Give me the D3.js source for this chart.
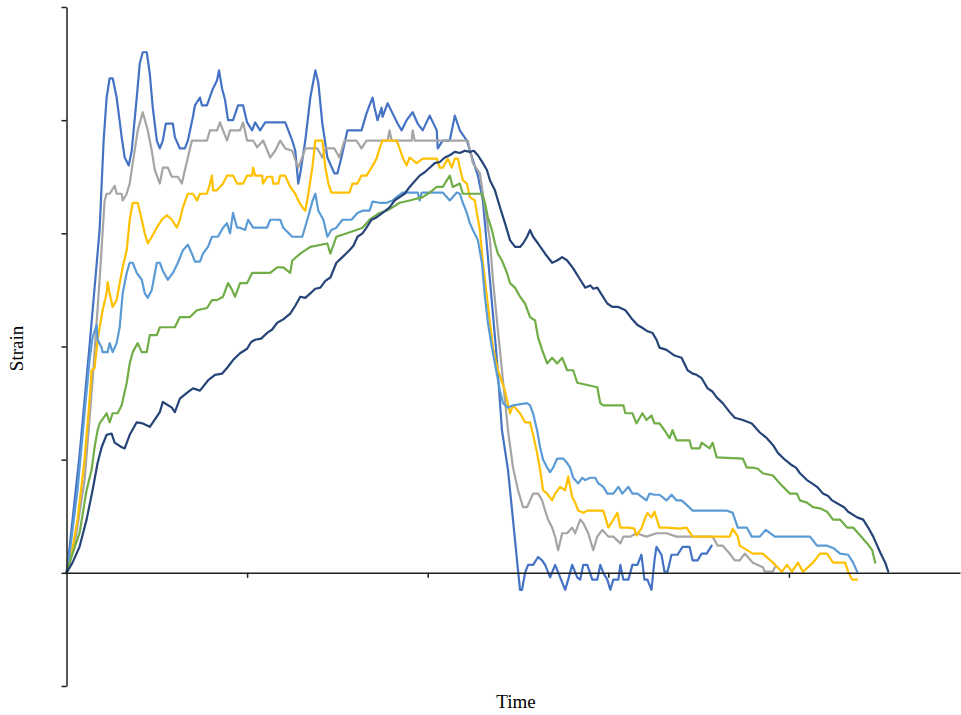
<!DOCTYPE html>
<html>
<head>
<meta charset="utf-8">
<script src="https://cdn.jsdelivr.net/npm/d3@7"></script>
<style>
  html, body { margin: 0; background: #fff; }
  svg { display: block; }
</style>
</head>
<body>
<svg id="chart" width="961" height="715"></svg>
<script>
// Axis ticks (time in s, strain in microstrain)
const timeTicks = [180, 360, 540, 720];
const strainTicks = [-100, 0, 100, 200, 300, 400, 500];

// Strain gauge readings: [time, strain]
const gauge1 = [[0,0],[3,22],[13,104],[23,201],[33,303],[37,382],[40,420],[43,437],[46,437],[50,420],[55,385],[58,367],[62,360],[65,373],[70,420],[73,450],[76,460],[80,460],[83,441],[86,411],[90,382],[93,375],[96,382],[99,397],[106,397],[108,385],[113,375],[118,375],[121,382],[126,403],[128,413],[133,420],[135,413],[140,413],[146,428],[150,435],[152,444],[155,428],[158,418],[161,400],[166,400],[171,413],[176,413],[180,398],[185,391],[188,398],[193,391],[198,398],[218,398],[225,382],[228,373],[231,344],[233,353],[238,382],[243,420],[248,444],[251,433],[255,397],[260,367],[267,353],[270,353],[274,367],[280,391],[294,391],[299,406],[302,413],[305,420],[307,411],[310,400],[314,411],[315,403],[320,415],[325,406],[330,397],[334,391],[339,400],[345,407],[350,397],[355,391],[362,404],[369,391],[370,375],[375,382],[382,382],[387,404],[392,391],[399,382],[402,373],[410,351],[415,329],[422,259],[429,188],[434,126],[440,91],[445,47],[449,11],[452,-15],[454,-15],[457,0],[460,7],[465,7],[470,14],[474,11],[477,7],[482,-4],[487,7],[492,-4],[497,-15],[500,-6],[504,7],[509,-4],[512,-6],[515,7],[519,7],[524,-6],[529,-6],[532,7],[535,0],[539,-6],[542,-15],[545,-6],[550,-6],[552,7],[555,-6],[560,-6],[564,7],[569,7],[573,16],[576,-6],[579,-6],[583,-15],[586,11],[588,23],[593,16],[596,1],[599,1],[603,16],[609,16],[614,23],[621,23],[624,11],[629,11],[633,17],[638,17],[643,24]];

const gauge2 = [[0,0],[8,24],[18,82],[26,170],[33,259],[38,329],[40,335],[43,335],[48,342],[50,335],[55,335],[56,329],[60,335],[63,344],[66,362],[71,391],[76,407],[81,391],[85,373],[88,356],[93,344],[96,358],[101,358],[105,350],[111,350],[115,344],[118,356],[121,367],[125,382],[140,382],[143,391],[150,391],[153,398],[156,391],[160,382],[163,391],[173,391],[176,398],[180,382],[186,382],[190,376],[196,382],[203,367],[208,373],[213,382],[218,375],[225,373],[228,365],[231,358],[235,367],[238,375],[250,375],[255,367],[258,375],[267,375],[272,367],[277,382],[289,382],[294,375],[299,382],[320,382],[322,391],[324,382],[344,382],[345,391],[347,382],[400,382],[405,362],[412,353],[417,323],[422,294],[425,259],[430,214],[435,170],[440,126],[445,93],[450,73],[455,58],[459,58],[462,64],[465,70],[470,70],[474,64],[477,55],[480,47],[484,40],[487,32],[490,20],[494,35],[499,35],[504,40],[507,35],[512,47],[515,44],[520,35],[525,20],[529,32],[534,38],[540,32],[545,32],[552,26],[555,32],[562,32],[568,35],[578,32],[588,35],[598,35],[608,32],[644,32],[649,24],[654,24],[661,17],[666,11],[671,11],[676,17],[684,9],[694,5],[696,1],[704,1],[706,5]];

const gauge3 = [[0,0],[5,17],[11,47],[18,100],[23,153],[25,179],[28,181],[31,206],[36,232],[40,247],[41,257],[43,247],[46,235],[50,241],[53,256],[56,270],[60,285],[63,312],[66,327],[71,327],[75,312],[78,300],[81,291],[85,297],[90,305],[95,312],[100,316],[105,312],[110,305],[113,312],[116,323],[121,335],[126,335],[130,329],[133,335],[140,335],[143,344],[145,351],[146,338],[150,338],[156,344],[160,351],[166,351],[170,344],[176,344],[180,351],[185,351],[186,358],[188,351],[195,351],[196,344],[200,350],[205,350],[206,344],[211,344],[213,351],[218,351],[223,341],[228,335],[231,329],[235,323],[238,320],[241,335],[245,358],[248,382],[255,382],[258,358],[261,344],[264,336],[282,336],[285,344],[290,344],[294,351],[299,351],[304,358],[309,366],[312,375],[315,382],[329,382],[332,375],[335,367],[339,360],[342,367],[349,362],[355,366],[369,366],[372,358],[375,358],[380,366],[384,358],[387,366],[390,366],[392,358],[395,347],[399,344],[402,332],[407,329],[409,318],[412,303],[415,274],[419,244],[422,221],[425,199],[430,179],[437,161],[442,141],[445,148],[452,141],[457,133],[462,133],[465,122],[469,106],[472,91],[475,73],[479,70],[484,64],[487,70],[492,76],[497,73],[500,85],[504,67],[507,62],[510,55],[515,53],[519,55],[535,55],[540,40],[545,47],[549,53],[552,40],[560,40],[566,39],[568,33],[573,39],[576,47],[579,53],[583,49],[586,54],[591,40],[598,40],[611,39],[618,40],[624,32],[661,32],[664,39],[669,32],[671,24],[684,17],[694,17],[704,9],[713,1],[718,7],[723,1],[729,9],[734,1],[744,9],[751,17],[758,17],[764,9],[776,9],[779,1],[783,-6],[788,-6]];

const gauge4 = [[0,0],[3,16],[6,38],[11,73],[18,141],[23,188],[26,208],[30,219],[31,206],[35,199],[36,195],[41,195],[43,203],[46,195],[50,203],[53,217],[56,247],[60,265],[63,274],[66,274],[70,265],[75,259],[78,247],[81,243],[85,250],[90,274],[93,274],[96,267],[101,259],[106,265],[111,274],[116,285],[121,290],[125,282],[128,275],[133,275],[136,282],[141,288],[145,297],[151,297],[156,305],[160,309],[163,300],[166,318],[170,305],[173,305],[178,303],[181,312],[186,305],[200,305],[203,312],[213,312],[216,305],[225,297],[235,297],[240,312],[245,328],[248,335],[251,320],[256,312],[260,297],[264,303],[269,305],[275,312],[284,312],[290,318],[295,320],[302,320],[305,328],[312,327],[319,327],[325,329],[329,332],[335,336],[350,336],[352,329],[354,336],[375,336],[382,329],[389,336],[392,335],[395,327],[399,318],[402,309],[405,303],[410,294],[414,274],[417,244],[420,221],[424,199],[427,185],[432,161],[435,150],[440,146],[445,148],[459,150],[462,148],[465,141],[469,126],[472,111],[475,100],[479,93],[482,89],[485,93],[489,101],[495,101],[499,97],[502,93],[505,84],[510,79],[514,84],[517,82],[522,84],[527,84],[530,79],[535,76],[539,70],[545,70],[550,76],[554,70],[560,76],[564,70],[569,70],[578,64],[581,70],[586,69],[591,69],[598,64],[603,69],[608,64],[613,64],[618,60],[624,55],[658,55],[664,53],[669,40],[678,40],[683,32],[691,32],[697,38],[706,32],[741,32],[748,24],[758,24],[764,22],[771,17],[779,16],[784,9],[788,1]];

const gauge5 = [[0,0],[6,17],[13,35],[20,73],[25,91],[28,111],[31,126],[33,132],[40,141],[43,133],[46,141],[51,141],[55,148],[60,168],[63,185],[66,195],[71,203],[75,195],[80,195],[83,210],[90,210],[93,217],[108,217],[113,226],[123,226],[130,232],[140,234],[145,241],[150,241],[156,244],[161,256],[165,250],[168,244],[173,256],[180,256],[185,265],[203,265],[210,270],[216,270],[223,265],[225,276],[233,282],[243,288],[260,291],[263,282],[269,297],[289,303],[295,305],[302,312],[312,318],[319,320],[325,323],[332,327],[342,329],[355,332],[362,336],[369,341],[375,341],[382,351],[385,341],[392,344],[395,335],[414,335],[417,327],[420,314],[424,303],[427,291],[430,282],[434,276],[439,265],[442,256],[447,252],[452,244],[457,238],[462,226],[467,223],[470,208],[474,197],[479,185],[484,190],[489,185],[494,190],[499,179],[505,179],[509,168],[529,164],[532,150],[535,148],[555,148],[557,141],[564,141],[568,132],[574,141],[578,135],[583,139],[586,132],[591,132],[596,126],[601,119],[604,126],[608,117],[621,117],[623,110],[631,110],[633,115],[641,110],[644,115],[648,102],[674,101],[678,93],[684,93],[689,92],[694,88],[704,86],[711,79],[721,70],[728,70],[731,64],[738,62],[744,58],[751,57],[758,54],[764,47],[771,47],[778,40],[784,40],[791,33],[798,26],[803,20],[806,9]];

const gauge6 = [[0,0],[6,9],[13,23],[20,47],[26,73],[31,97],[35,111],[40,122],[45,123],[48,115],[55,111],[58,110],[63,122],[70,133],[76,132],[83,129],[90,138],[93,142],[96,151],[105,146],[108,142],[113,154],[120,159],[126,163],[133,161],[141,170],[148,175],[155,176],[160,181],[166,188],[173,194],[180,198],[184,204],[188,206],[194,207],[200,212],[205,215],[210,221],[216,224],[223,229],[228,236],[233,244],[238,243],[243,247],[248,251],[253,252],[258,258],[263,261],[269,274],[275,279],[282,285],[286,289],[290,297],[295,300],[299,305],[304,312],[309,314],[315,318],[322,323],[327,329],[332,332],[337,335],[342,341],[347,346],[352,351],[357,354],[362,358],[367,362],[372,363],[377,367],[382,369],[387,372],[392,371],[397,373],[402,372],[406,373],[410,369],[415,362],[419,356],[422,347],[427,338],[432,323],[437,309],[442,294],[447,288],[452,288],[455,291],[459,297],[462,303],[465,297],[470,291],[477,282],[484,274],[489,276],[494,279],[499,276],[505,269],[512,259],[517,252],[522,254],[525,251],[529,252],[534,245],[539,238],[544,235],[550,235],[557,232],[563,225],[569,219],[573,217],[578,214],[584,212],[588,206],[591,199],[598,197],[606,192],[613,190],[619,179],[624,176],[628,175],[633,172],[639,163],[644,160],[648,155],[654,150],[661,142],[666,137],[674,135],[683,132],[687,128],[691,124],[698,119],[704,113],[709,106],[716,100],[723,95],[727,93],[731,88],[738,82],[743,79],[748,76],[754,70],[759,68],[763,64],[771,60],[775,58],[779,54],[788,49],[794,47],[799,40],[804,32],[811,18],[816,9],[819,1]];

const gauges = [gauge1, gauge2, gauge3, gauge4, gauge5, gauge6];
const colors = ["#4472C4", "#A5A5A5", "#FFC000", "#5B9BD5", "#70AD47", "#264478"];

const svg = d3.select("#chart");

const x = d3.scaleLinear().domain([0, 890.5]).range([66.5, 960]);
const y = d3.scaleLinear().domain([-100, 500]).range([686, 7]);

const axisColor = "#1f1f1f";

// Series
const line = d3.line()
  .x(d => x(d[0]))
  .y(d => y(d[1]));

svg.append("g")
  .selectAll("path")
  .data(gauges)
  .join("path")
  .attr("d", line)
  .attr("fill", "none")
  .attr("stroke", (d, i) => colors[i])
  .attr("stroke-width", 2.2)
  .attr("stroke-linejoin", "round")
  .attr("stroke-linecap", "round");

// Vertical axis
const yAxis = svg.append("g")
  .attr("transform", `translate(${x(0)},0)`)
  .call(d3.axisLeft(y).tickValues(strainTicks).tickFormat("").tickSize(5).tickSizeOuter(0));

// Horizontal axis through zero strain
const xAxis = svg.append("g")
  .attr("transform", `translate(0,${y(0)})`)
  .call(d3.axisBottom(x).tickValues(timeTicks).tickFormat("").tickSize(5).tickSizeOuter(0));

[yAxis, xAxis].forEach(g => {
  g.select(".domain").attr("stroke", axisColor).attr("stroke-width", 1.5);
  g.selectAll(".tick line").attr("stroke", axisColor).attr("stroke-width", 1.5);
});

// Axis titles
svg.append("text")
  .attr("transform", `translate(23,${(y(500) + y(-100)) / 2 + 2}) rotate(-90)`)
  .attr("text-anchor", "middle")
  .attr("font-family", "'Liberation Serif', 'Times New Roman', serif")
  .attr("font-size", 19)
  .attr("fill", "#000")
  .text("Strain");

svg.append("text")
  .attr("x", 516)
  .attr("y", 708)
  .attr("text-anchor", "middle")
  .attr("font-family", "'Liberation Serif', 'Times New Roman', serif")
  .attr("font-size", 19)
  .attr("fill", "#000")
  .text("Time");
</script>
</body>
</html>
